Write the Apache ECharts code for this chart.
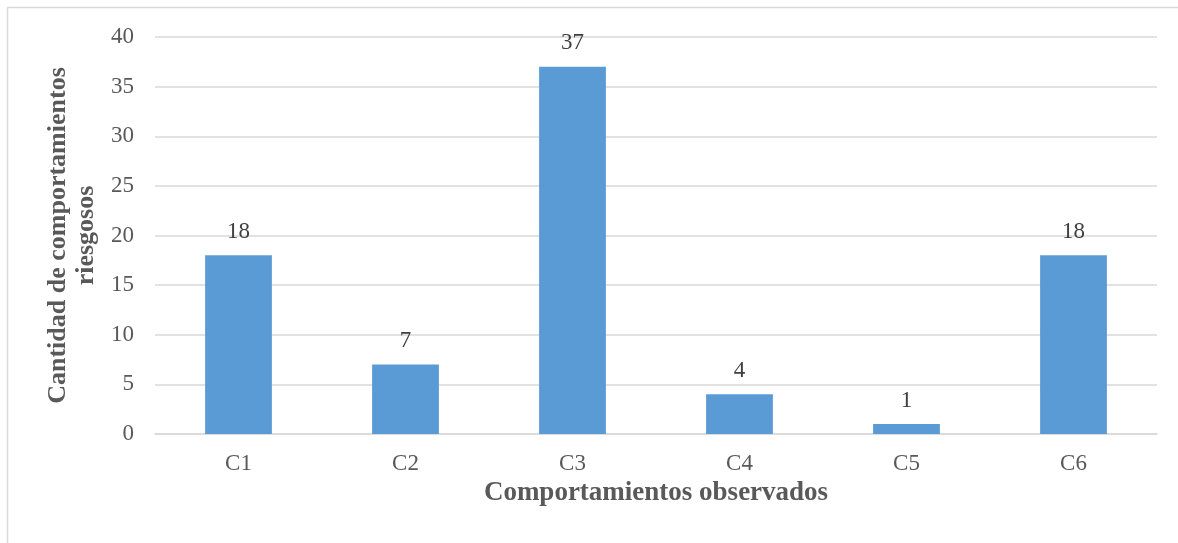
<!DOCTYPE html>
<html>
<head>
<meta charset="utf-8">
<script src="https://cdn.jsdelivr.net/npm/echarts@6/dist/echarts.min.js"></script>
<style>
  html, body { margin: 0; padding: 0; background: #ffffff; }
  #chart { width: 1178px; height: 543px; }
</style>
</head>
<body>
<div id="chart"></div>
<script>
// Categories and counts of risky behaviours observed
const categories = ['C1', 'C2', 'C3', 'C4', 'C5', 'C6'];
const counts = [18, 7, 37, 4, 1, 18];
const yTicks = { min: 0, max: 40, interval: 5 };

const serif = '"Liberation Serif", "Times New Roman", serif';
const textGray = '#595959';

const chart = echarts.init(document.getElementById('chart'));
chart.setOption({
  animation: false,
  backgroundColor: '#ffffff',
  graphic: [{
    type: 'rect',
    shape: { x: 7.5, y: 7.5, width: 1300, height: 700 },
    style: { fill: 'none', stroke: '#d9d9d9', lineWidth: 1.5 },
    silent: true
  }],
  grid: { left: 155, right: 21, top: 37, bottom: 109 },
  xAxis: {
    type: 'category',
    data: categories,
    axisLine: { show: true, lineStyle: { color: '#d9d9d9', width: 1.5 } },
    axisTick: { show: false },
    axisLabel: { color: textGray, fontFamily: serif, fontSize: 23, margin: 18 },
    name: 'Comportamientos observados',
    nameLocation: 'middle',
    nameGap: 45,
    nameTextStyle: { color: textGray, fontFamily: serif, fontSize: 27, fontWeight: 'bold' }
  },
  yAxis: {
    type: 'value',
    min: yTicks.min,
    max: yTicks.max,
    interval: yTicks.interval,
    axisLine: { show: false },
    axisTick: { show: false },
    splitLine: { lineStyle: { color: '#d9d9d9', width: 1.5 } },
    axisLabel: { color: textGray, fontFamily: serif, fontSize: 23, margin: 21 },
    name: 'Cantidad de comportamientos\nriesgosos',
    nameLocation: 'middle',
    nameGap: 35,
    nameRotate: 90,
    nameTextStyle: { color: textGray, fontFamily: serif, fontSize: 26, fontWeight: 'bold', lineHeight: 28 }
  },
  series: [{
    type: 'bar',
    data: counts,
    barWidth: '40%',
    itemStyle: { color: '#5b9bd5' },
    label: {
      show: true,
      position: 'top',
      distance: 12,
      color: '#404040',
      fontFamily: serif,
      fontSize: 23
    }
  }]
});
</script>
</body>
</html>
